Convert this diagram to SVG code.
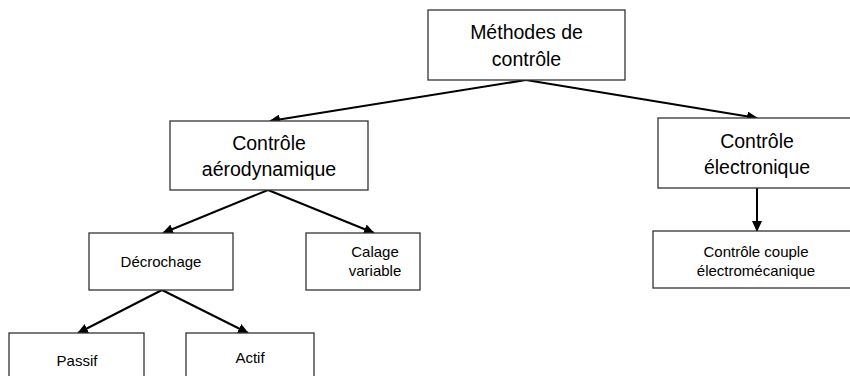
<svg xmlns="http://www.w3.org/2000/svg" width="850" height="376" viewBox="0 0 850 376">
<style>
.box{fill:#fff;stroke:#333;stroke-width:1.3}
.t{font-family:"Liberation Sans",Arial,sans-serif;fill:#000;text-anchor:middle}
.l{font-size:19.5px}
.s{font-size:15px}
.c{stroke:#000;stroke-width:2;fill:none;marker-end:url(#ah)}
</style>
<defs>
<marker id="ah" markerUnits="userSpaceOnUse" markerWidth="11" markerHeight="10" refX="10" refY="5" orient="auto">
<path d="M0,0 L11,5 L0,10 Z" fill="#000"/>
</marker>
</defs>
<rect width="850" height="376" fill="#fff"/>
<g id="connectors">
<line class="c" x1="526" y1="80" x2="270" y2="121"/>
<line class="c" x1="526" y1="80" x2="757" y2="118"/>
<line class="c" x1="268" y1="190" x2="163" y2="233"/>
<line class="c" x1="268" y1="190" x2="374" y2="233"/>
<line class="c" x1="162" y1="290" x2="78" y2="333"/>
<line class="c" x1="162" y1="290" x2="248" y2="333"/>
<line class="c" x1="757" y1="188" x2="757" y2="231"/>
</g>
<g id="methodes">
<rect class="box" x="428" y="10" width="197" height="70"/>
<text class="t l" x="526.5" y="39">Méthodes de</text>
<text class="t l" x="526.5" y="66">contrôle</text>
</g>
<g id="aero">
<rect class="box" x="170" y="121" width="198" height="69"/>
<text class="t l" x="269" y="150">Contrôle</text>
<text class="t l" x="269" y="176">aérodynamique</text>
</g>
<g id="electronique">
<rect class="box" x="658" y="118" width="200" height="70"/>
<text class="t l" x="757" y="148">Contrôle</text>
<text class="t l" x="757" y="174">électronique</text>
</g>
<g id="couple">
<rect class="box" x="653" y="231" width="205" height="57"/>
<text class="t s" x="756" y="257">Contrôle couple</text>
<text class="t s" x="756" y="276">électromécanique</text>
</g>
<g id="decrochage">
<rect class="box" x="89" y="233" width="144" height="57"/>
<text class="t s" x="161" y="267">Décrochage</text>
</g>
<g id="calage">
<rect class="box" x="306" y="233" width="114" height="57"/>
<text class="t s" x="375" y="257">Calage</text>
<text class="t s" x="375" y="276">variable</text>
</g>
<g id="passif">
<rect class="box" x="9" y="333" width="135" height="60"/>
<text class="t s" x="77" y="366">Passif</text>
</g>
<g id="actif">
<rect class="box" x="186" y="333" width="128" height="60"/>
<text class="t s" x="250" y="363">Actif</text>
</g>
</svg>
